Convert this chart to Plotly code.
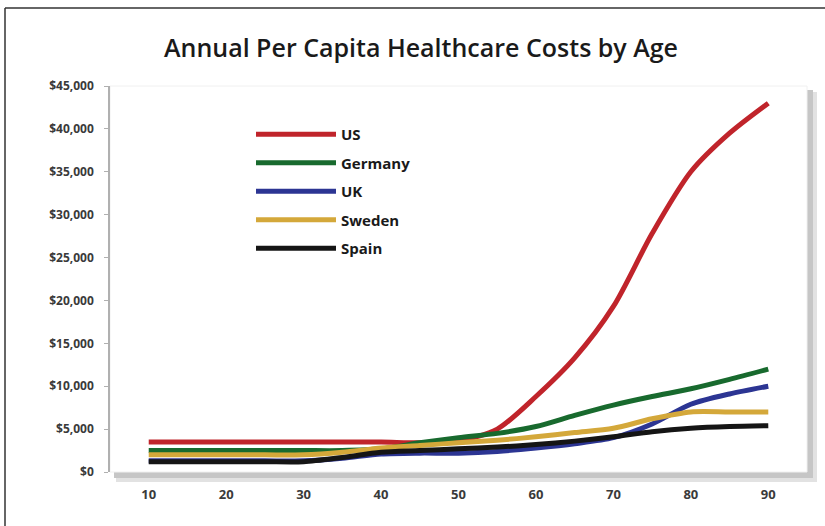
import plotly.graph_objects as go

# ---- data ----
ages = [10, 15, 20, 25, 30, 35, 40, 45, 50, 55, 60, 65, 70, 75, 80, 85, 90]
us = [3500, 3500, 3500, 3500, 3500, 3500, 3500, 3400, 3600, 5000, 8800, 13300, 19300, 27800, 35000, 39500, 43000]
germany = [2500, 2500, 2500, 2500, 2500, 2500, 2700, 3400, 4000, 4500, 5300, 6600, 7800, 8800, 9700, 10800, 12000]
uk = [1300, 1300, 1300, 1300, 1300, 1600, 2100, 2200, 2200, 2400, 2800, 3300, 4000, 5600, 7900, 9100, 10000]
sweden = [2000, 2000, 2000, 2000, 2000, 2300, 2800, 3100, 3400, 3700, 4100, 4600, 5100, 6200, 7000, 7000, 7000]
spain = [1200, 1200, 1200, 1200, 1200, 1700, 2300, 2500, 2700, 2900, 3200, 3600, 4100, 4700, 5100, 5300, 5400]

series_names = ["US", "Germany", "UK", "Sweden", "Spain"]
series_values = [us, germany, uk, sweden, spain]
series_colors = ["#c0242b", "#186a2e", "#2c3593", "#d4a83a", "#151515"]

x_ticks = [10, 20, 30, 40, 50, 60, 70, 80, 90]
y_ticks = [0, 5000, 10000, 15000, 20000, 25000, 30000, 35000, 40000, 45000]
title_text = "Annual Per Capita Healthcare Costs by Age"

FONT = "Open Sans"

fig = go.Figure()
for name, vals, col in zip(series_names, series_values, series_colors):
    fig.add_trace(go.Scatter(
        x=ages, y=vals, name=name, mode="lines",
        line=dict(color=col, width=5, shape="spline", smoothing=0.8),
        legendgroup=name,
    ))

W, H = 825, 526
L, R, T, B = 110, 18, 86, 54
pw = W - L - R
ph = H - T - B

def px_x(p):
    return (p - L) / pw

def px_y(p):
    return (H - B - p) / ph

shapes = [
    # drop shadow of plot area
    dict(type="rect", xref="paper", yref="paper", layer="below",
         x0=px_x(L + 6), x1=px_x(L + pw + 10), y0=px_y(H - B + 10), y1=px_y(T + 6),
         fillcolor="#e2e2e2", line=dict(width=0)),
    dict(type="rect", xref="paper", yref="paper", layer="below",
         x0=px_x(L + 4), x1=px_x(L + pw + 6), y0=px_y(H - B + 6), y1=px_y(T + 4),
         fillcolor="#c6c6c6", line=dict(width=0)),
    # white plot area on top of the shadow
    dict(type="rect", xref="paper", yref="paper", layer="below",
         x0=0, x1=1, y0=0, y1=1, fillcolor="white", line=dict(color="#f0f0f0", width=1)),
    # outer frame (left and top edges)
    dict(type="line", xref="paper", yref="paper", x0=px_x(5), x1=px_x(5),
         y0=px_y(8), y1=px_y(H + 5), line=dict(color="#333333", width=1.5)),
    dict(type="line", xref="paper", yref="paper", x0=px_x(5), x1=px_x(W + 5),
         y0=px_y(8), y1=px_y(8), line=dict(color="#333333", width=1.5)),
]

fig.update_layout(
    width=W, height=H,
    margin=dict(l=L, r=R, t=T, b=B, pad=0),
    paper_bgcolor="white", plot_bgcolor="rgba(0,0,0,0)",
    title=dict(text=title_text, x=421 / W, xanchor="center", y=1 - 48 / H, yanchor="middle",
               font=dict(family=FONT, size=25, color="#1a1a1a", weight=600)),
    showlegend=True,
    legend=dict(x=px_x(251), y=px_y(118), xanchor="left", yanchor="top",
                bgcolor="rgba(0,0,0,0)", font=dict(family=FONT, size=15, color="#1a1a1a", weight="bold"),
                itemwidth=80, tracegroupgap=6, traceorder="grouped"),
    shapes=shapes,
    xaxis=dict(range=[5, 95], tickmode="array", tickvals=x_ticks, showgrid=False, zeroline=False,
               showline=False, ticks="", ticklabelstandoff=13,
               tickfont=dict(family=FONT, size=13, color="#3a3a3a", weight="bold")),
    yaxis=dict(range=[0, 45000], tickmode="array", tickvals=y_ticks, tickformat="$,d",
               showgrid=False, zeroline=False, showline=True, linecolor="#b0b0b0", linewidth=1.5,
               ticks="outside", ticklen=4, tickcolor="#b0b0b0", ticklabelstandoff=8,
               tickfont=dict(family=FONT, size=12, color="#3a3a3a", weight="bold")),
)

fig.write_html("out.html")
